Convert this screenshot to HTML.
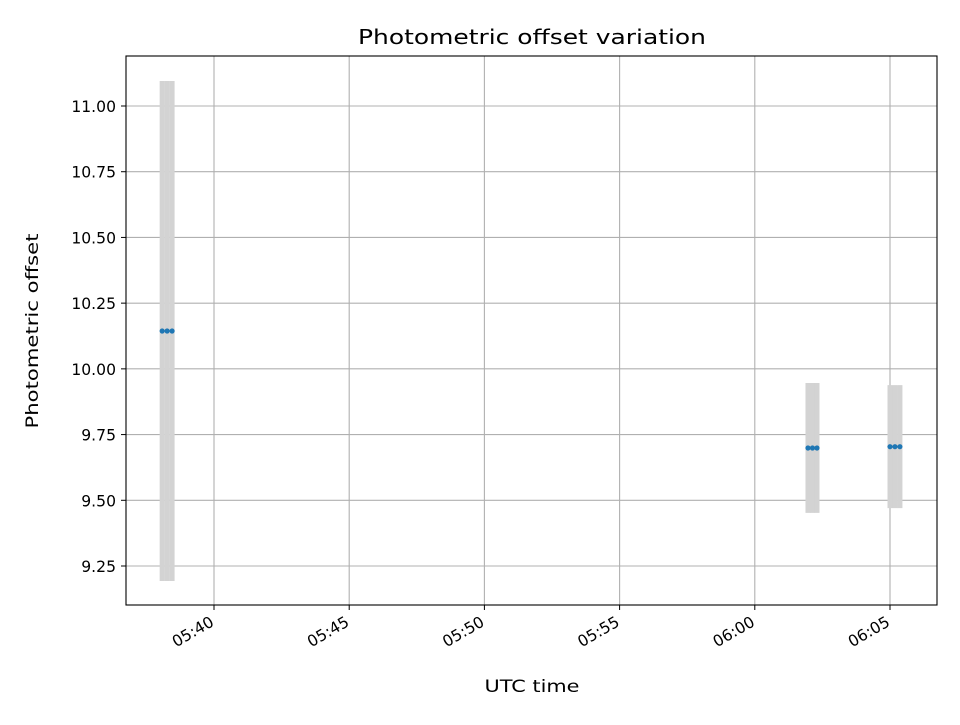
<!DOCTYPE html>
<html><head><meta charset="utf-8"><style>
body{margin:0;background:#fff;}
svg text{font-family:"DejaVu Sans","Liberation Sans",sans-serif;fill:#000;}
</style></head><body>
<svg id="chart" width="960" height="720" xmlns="http://www.w3.org/2000/svg">
<rect width="960" height="720" fill="#fff"/>
<g id="grid"></g>
<g id="bars"></g>
<g id="pts"></g>
<rect x="126" y="56" width="811" height="549" fill="none" stroke="#000" stroke-width="1.1"/>
<g id="axes"></g>
<text x="532" y="44" font-size="20" text-anchor="middle" textLength="348" lengthAdjust="spacingAndGlyphs">Photometric offset variation</text>
<text x="532" y="692" font-size="17" text-anchor="middle" textLength="95" lengthAdjust="spacingAndGlyphs">UTC time</text>
<text x="38" y="331" font-size="17" text-anchor="middle" transform="rotate(-90 38 331)" textLength="195" lengthAdjust="spacingAndGlyphs">Photometric offset</text>
</svg>
<script>
const times = ["05:38:05","05:38:16","05:38:27","06:01:58","06:02:08","06:02:18","06:05:00","06:05:11","06:05:22"];
const offsets = [10.144,10.144,10.144,9.699,9.699,9.699,9.704,9.704,9.704];
const errors = [0.951,0.951,0.951,0.247,0.247,0.247,0.234,0.234,0.234];
const yTicks = [9.25,9.50,9.75,10.00,10.25,10.50,10.75,11.00];
const xTickLabels = ["05:40","05:45","05:50","05:55","06:00","06:05"];

const NS="http://www.w3.org/2000/svg";
function sec(t){const p=t.split(":").map(Number);return p[0]*3600+p[1]*60+(p[2]||0);}
const x0=sec("05:40"), px0=214, pxPerSec=135.2/300;
function X(t){return px0+(sec(t)-x0)*pxPerSec;}
function Y(v){return 106+(11-v)*262.86;}
function mk(tag,attrs,parent){const e=document.createElementNS(NS,tag);for(const k in attrs)e.setAttribute(k,attrs[k]);parent.appendChild(e);return e;}
const grid=document.getElementById("grid"),axes=document.getElementById("axes");
yTicks.forEach(v=>{
  const y=Y(v);
  const g=mk("line",{x1:126,x2:937,y1:y,y2:y,stroke:"#b0b0b0","stroke-width":1.1},grid);
  
  
  mk("line",{x1:121,x2:126,y1:y,y2:y,stroke:"#000"},axes);
  const t=mk("text",{x:116,y:y+6,"font-size":15.6,"text-anchor":"end"},axes);
  t.textContent=v.toFixed(2);
  
  
});
xTickLabels.forEach(s=>{
  const x=X(s);
  const g=mk("line",{x1:x,x2:x,y1:56,y2:605,stroke:"#b0b0b0","stroke-width":1.1},grid);
  
  
  mk("line",{x1:x,x2:x,y1:605,y2:610,stroke:"#000"},axes);
  const px=x+1, py=625;
  const t=mk("text",{x:px,y:py,"font-size":15.6,"text-anchor":"end",transform:`rotate(-30 ${px} ${py})`},axes);
  t.textContent=s;
  
  
});
const bars=document.getElementById("bars"),pts=document.getElementById("pts");
times.forEach((t,i)=>{
  const x=X(t);
  const b=mk("line",{x1:x,x2:x,y1:Y(offsets[i]+errors[i]),y2:Y(offsets[i]-errors[i]),stroke:"#d3d3d3","stroke-width":5},bars);
  
  
  const c=mk("circle",{cx:x,cy:Y(offsets[i]),r:2.6,fill:"#1f77b4"},pts);
  
  
});
</script>
</body></html>
